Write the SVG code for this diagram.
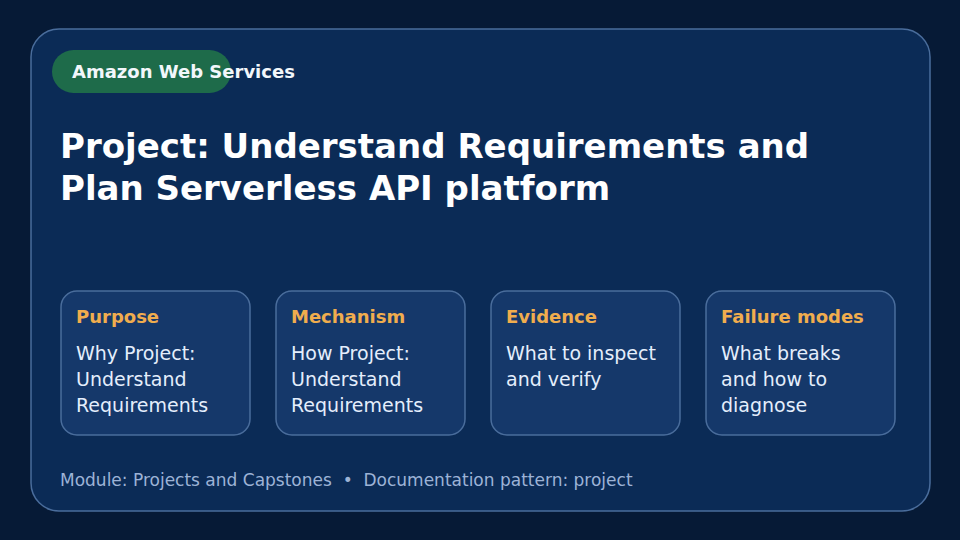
<svg xmlns="http://www.w3.org/2000/svg" width="960" height="540" viewBox="0 0 960 540">
<style>
text{font-family:"DejaVu Sans",sans-serif}
.card{fill:#15386a;stroke:#4a6d9c;stroke-width:1.5}
.h{font-size:18px;font-weight:bold;fill:#f0ad4e}
.b{font-size:19px;fill:#e4eefc}
</style>
<rect width="960" height="540" fill="#061a36"/>
<rect x="31" y="29" width="899" height="482" rx="28" fill="#0b2b56" stroke="#4a6d9c" stroke-width="1.5"/>
<g id="badge"><rect x="52" y="50" width="179" height="43" rx="21.5" fill="#1e6b4a"/>
<text x="72" y="78" font-size="18" font-weight="bold" fill="#f2f7fb">Amazon Web Services</text></g>
<g id="title"><text x="60" y="158" font-size="34" font-weight="bold" fill="#ffffff">Project: Understand Requirements and</text>
<text x="60" y="200" font-size="34" font-weight="bold" fill="#ffffff">Plan Serverless API platform</text></g>
<g id="connectors"/>
<g id="n1"><rect class="card" x="61" y="291" width="189" height="144" rx="16"/><text class="h" x="76" y="323">Purpose</text><text class="b" x="76" y="360">Why Project:</text><text class="b" x="76" y="386">Understand</text><text class="b" x="76" y="412">Requirements</text></g>
<g id="n2"><rect class="card" x="276" y="291" width="189" height="144" rx="16"/><text class="h" x="291" y="323">Mechanism</text><text class="b" x="291" y="360">How Project:</text><text class="b" x="291" y="386">Understand</text><text class="b" x="291" y="412">Requirements</text></g>
<g id="n3"><rect class="card" x="491" y="291" width="189" height="144" rx="16"/><text class="h" x="506" y="323">Evidence</text><text class="b" x="506" y="360">What to inspect</text><text class="b" x="506" y="386">and verify</text></g>
<g id="n4"><rect class="card" x="706" y="291" width="189" height="144" rx="16"/><text class="h" x="721" y="323">Failure modes</text><text class="b" x="721" y="360">What breaks</text><text class="b" x="721" y="386">and how to</text><text class="b" x="721" y="412">diagnose</text></g>
<text x="60" y="486" font-size="17" fill="#9db3d6" style="white-space:pre">Module: Projects and Capstones  •  Documentation pattern: project</text>
</svg>
